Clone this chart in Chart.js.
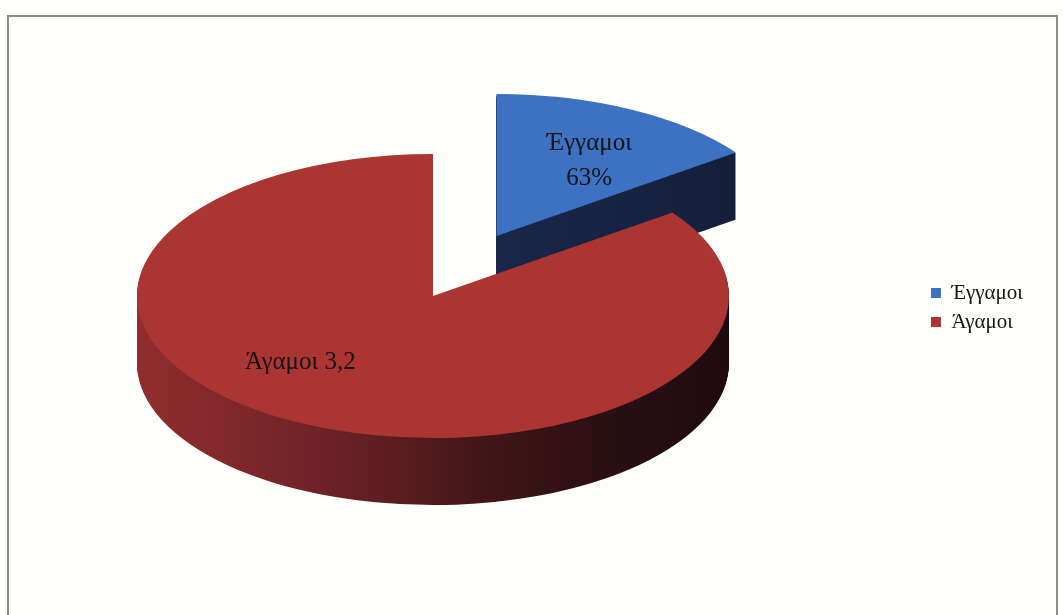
<!DOCTYPE html>
<html lang="el">
<head>
<meta charset="utf-8">
<title>Έγγαμοι / Άγαμοι</title>
<script src="https://cdn.jsdelivr.net/npm/chart.js@4/dist/chart.umd.min.js"></script>
<style>
  html, body { margin: 0; padding: 0; background: #fefefb; }
  #pie { display: block; }
</style>
</head>
<body>
<canvas id="pie" width="1063" height="615"></canvas>
<script>
// ── Data ─────────────────────────────────────────────────────────
const categories  = ["Έγγαμοι", "Άγαμοι"];
const sliceValues = [15, 85];
const sliceTexts  = [["Έγγαμοι", "63%"], ["Άγαμοι 3,2"]];   // labels as printed

// ── Look ─────────────────────────────────────────────────────────
const TOP_COLORS  = ["#3d71c2", "#aa3532"];
const PIE_X       = 433;     // screen centre of the top face
const PIE_Y       = 296;
const SQUISH      = 0.48;    // tilt of the disc
const DEPTH       = 67;      // rim thickness in px
const EXPLODE     = [140, 0];
const LABEL_FRAC  = [0.69, 0.6];
const LABEL_NUDGE = [[0, 12], [-52, -10]];

// map a point given in the arc's own coordinates to the screen
function toScreen(arc, i, ux, uy, dy) {
    const mid = (arc.startAngle + arc.endAngle) / 2;
    const ex = EXPLODE[i];
    return {
        x: PIE_X + (ux - arc.x + Math.cos(mid) * ex),
        y: PIE_Y + dy + (uy - arc.y + Math.sin(mid) * ex) * SQUISH
    };
}

// rim colour, shaded left → right in screen space
function rimFill(ctx, arc, i) {
    const mid = (arc.startAngle + arc.endAngle) / 2;
    const shift = arc.x - PIE_X - Math.cos(mid) * EXPLODE[i];
    const g = ctx.createLinearGradient(135 + shift, 0, 730 + shift, 0);
    if (i === 0) {
        g.addColorStop(0, "#223263");
        g.addColorStop(1, "#151f3a");
    } else {
        g.addColorStop(0,    "#922d2f");
        g.addColorStop(0.33, "#6c2225");
        g.addColorStop(0.58, "#421619");
        g.addColorStop(0.8,  "#2a0f13");
        g.addColorStop(1,    "#1e0a0e");
    }
    return g;
}

function paintArc(ctx, arc, i, dy, fill) {
    const mid = (arc.startAngle + arc.endAngle) / 2;
    const ex = EXPLODE[i];
    ctx.save();
    ctx.translate(PIE_X, PIE_Y + dy);
    ctx.scale(1, SQUISH);
    ctx.translate(Math.cos(mid) * ex - arc.x, Math.sin(mid) * ex - arc.y);
    const saved = arc.options;
    arc.options = Object.assign({}, saved, { backgroundColor: fill, borderWidth: 0, offset: 0 });
    arc.draw(ctx);
    arc.options = saved;
    ctx.restore();
}

// ── 3D pie plugin: rim layers, then the top faces ────────────────
const pie3d = {
    id: "pie3d",
    beforeDraw(chart) {
        const ctx = chart.ctx;
        ctx.save();
        ctx.fillStyle = "#fefefb";
        ctx.fillRect(0, 0, chart.width, chart.height);
        ctx.strokeStyle = "#8c8c8c";
        ctx.lineWidth = 2;
        ctx.strokeRect(8, 16, 1049, 640);
        ctx.restore();
    },
    beforeDatasetsDraw(chart) {
        const ctx = chart.ctx;
        const arcs = chart.getDatasetMeta(0).data;
        arcs.forEach((arc, i) => {
            const fill = rimFill(ctx, arc, i);
            for (let d = DEPTH; d >= 1; d--) paintArc(ctx, arc, i, d, fill);
        });
        arcs.forEach((arc, i) => paintArc(ctx, arc, i, 0, TOP_COLORS[i]));
        return false;
    },
    afterDraw(chart) {
        const ctx = chart.ctx;
        const arcs = chart.getDatasetMeta(0).data;
        ctx.save();
        ctx.fillStyle = "#141414";
        ctx.textAlign = "center";
        ctx.textBaseline = "middle";
        ctx.font = "25px 'Liberation Serif', serif";
        arcs.forEach((arc, i) => {
            const mid = (arc.startAngle + arc.endAngle) / 2;
            const r = arc.outerRadius * LABEL_FRAC[i];
            const p = toScreen(arc, i, arc.x + Math.cos(mid) * r, arc.y + Math.sin(mid) * r, 0);
            const lines = sliceTexts[i];
            const lh = 35;
            lines.forEach((t, k) => {
                const y = p.y + LABEL_NUDGE[i][1] + (k - (lines.length - 1) / 2) * lh;
                ctx.fillText(t, p.x + LABEL_NUDGE[i][0], y);
            });
        });
        ctx.restore();
    }
};

new Chart(document.getElementById("pie").getContext("2d"), {
    type: "pie",
    data: {
        labels: categories,
        datasets: [{
            data: sliceValues,
            backgroundColor: TOP_COLORS,
            borderWidth: 0,
            radius: 296,
            clip: false
        }]
    },
    options: {
        responsive: false,
        devicePixelRatio: 1,
        animation: false,
        events: [],
        layout: { padding: { right: 30 } },
        plugins: {
            tooltip: { enabled: false },
            legend: {
                position: "right",
                labels: {
                    color: "#151515",
                    font: { family: "'Liberation Serif', serif", size: 21 },
                    boxWidth: 10,
                    boxHeight: 10,
                    padding: 8
                }
            }
        }
    },
    plugins: [pie3d]
});
</script>
</body>
</html>
